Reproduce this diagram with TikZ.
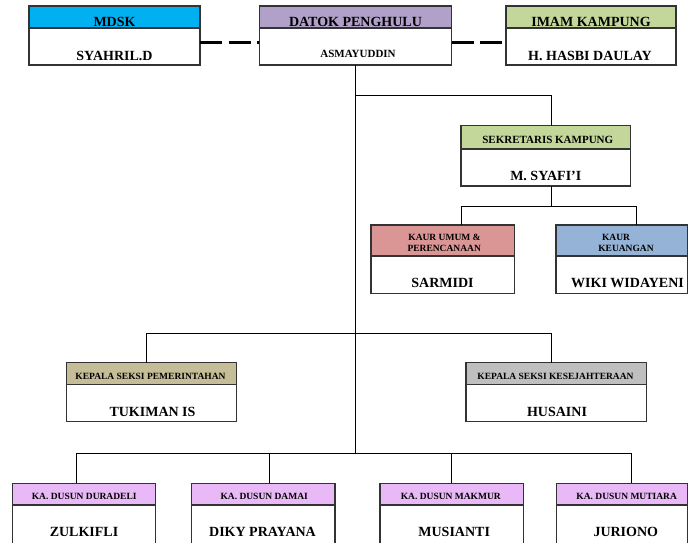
\documentclass[tikz,border=0pt]{standalone}
\usepackage{fontspec}
\setmainfont{Liberation Serif}
\definecolor{cMdsk}{HTML}{00B0F0}
\definecolor{cDatok}{HTML}{B1A0C7}
\definecolor{cGreen}{HTML}{C4D79B}
\definecolor{cRed}{HTML}{DA9694}
\definecolor{cBlue}{HTML}{95B3D7}
\definecolor{cTan}{HTML}{C4BD97}
\definecolor{cGray}{HTML}{BFBFBF}
\definecolor{cDusun}{HTML}{E9B8F7}
\definecolor{cBorder}{HTML}{333333}
\newcommand\obox[7]{% name, x1, y1, x2, y2, yheader, colour
  \fill[#7] (#2,#3) rectangle (#4,#6);
  \draw[boxline] (#2,#6) -- (#4,#6);
  \node[orgbox, minimum width={(#4-#2)*1pt}, minimum height={(#5-#3)*1pt}] (#1) at ({(#2+#4)/2},{(#3+#5)/2}) {};
}
\begin{document}
\begin{tikzpicture}[x=1pt,y=-1pt,
  boxline/.style={draw=cBorder, line width=1.1pt},
  orgbox/.style={rectangle, draw=cBorder, line width=1.1pt, inner sep=0pt, outer sep=0pt},
  conn/.style={draw=black, line width=0.8pt},
  dashline/.style={draw=black, line width=3pt, dash pattern=on 22pt off 6.5pt},
  big/.style={anchor=base, inner sep=0pt, font=\fontsize{14}{16}\selectfont\bfseries},
  mid/.style={anchor=base, inner sep=0pt, font=\fontsize{11}{13}\selectfont\bfseries},
  small/.style={anchor=base, inner sep=0pt, font=\fontsize{9.5}{11}\selectfont\bfseries}]
\useasboundingbox (0,0) rectangle (688,542);
\clip (0,0) rectangle (688,542);
\fill[white] (0,0) rectangle (688,542);

% boxes
\obox{mdsk}{29}{6}{200}{65}{28}{cMdsk}
\obox{datok}{259.3}{6}{451.7}{65}{28}{cDatok}
\obox{imam}{506}{6}{676}{65}{28}{cGreen}
\obox{sek}{461}{125.7}{630.7}{186}{149}{cGreen}
\obox{kum}{371}{225}{514.3}{293.3}{256}{cRed}
\obox{keu}{556}{225}{687.4}{293.3}{256}{cBlue}
\obox{tuk}{66.7}{362.7}{236.7}{421.7}{384.3}{cTan}
\obox{hus}{466}{362.7}{646.7}{421.7}{384.3}{cGray}
\obox{zul}{12.3}{483.3}{155.7}{560}{505}{cDusun}
\obox{dik}{191.7}{483.3}{335}{560}{505}{cDusun}
\obox{mus}{380}{483.3}{523.3}{560}{505}{cDusun}
\obox{jur}{556.7}{483.3}{687.4}{560}{505}{cDusun}

% texts
\node[big] (tmdsk) at (114.5,26) {MDSK};
\node[big] (nmdsk) at (114.5,60) {SYAHRIL.D};
\node[big] (tdatok) at (355.5,26) {DATOK PENGHULU};
\node[mid] (ndatok) at (358,57.3) {ASMAYUDDIN};
\node[big] (timam) at (591,26) {IMAM KAMPUNG};
\node[big] (nimam) at (590,60) {H. HASBI DAULAY};
\node[mid] (tsek) at (547.8,143.3) {SEKRETARIS KAMPUNG};
\node[big] (nsek) at (545.8,180.7) {M. SYAFI’I};
\node[small] (tkum1) at (444.5,240.7) {KAUR UMUM \&};
\node[small] (tkum2) at (444.2,251.7) {PERENCANAAN};
\node[big] (nkum) at (442.5,287.7) {SARMIDI};
\node[small] (tkeu1) at (616,240.7) {KAUR};
\node[small] (tkeu2) at (626,251.7) {KEUANGAN};
\node[big] (nkeu) at (627.5,287.7) {WIKI WIDAYENI};
\node[small] (ttuk) at (150.5,379.3) {KEPALA SEKSI PEMERINTAHAN};
\node[big] (ntuk) at (152.5,416) {TUKIMAN IS};
\node[small] (thus) at (555.5,379.3) {KEPALA SEKSI KESEJAHTERAAN};
\node[big] (nhus) at (557,416) {HUSAINI};
\node[small] (tzul) at (84.2,499.3) {KA. DUSUN DURADELI};
\node[big] (nzul) at (84,536.7) {ZULKIFLI};
\node[small] (tdik) at (264.2,499.3) {KA. DUSUN DAMAI};
\node[big] (ndik) at (262.5,536.7) {DIKY PRAYANA};
\node[small] (tmus) at (450.8,499.3) {KA. DUSUN MAKMUR};
\node[big] (nmus) at (454.2,536.7) {MUSIANTI};
\node[small] (tjur) at (626.7,499.3) {KA. DUSUN MUTIARA};
\node[big] (njur) at (625.8,536.7) {JURIONO};

% junction rows
\coordinate (r1) at (0,95.7);
\coordinate (r2) at (0,206);
\coordinate (r3) at (0,333.3);
\coordinate (r4) at (0,453.3);

% dashed links
\draw[dashline] ([yshift=-6.5pt]mdsk.east) -- ([yshift=-6.5pt]datok.west);
\draw[dashline] ([yshift=-6.5pt]datok.east) -- ([yshift=-6.5pt]imam.west);

% tree connectors
\draw[conn] (datok.south) -- (datok.south |- r4);
\draw[conn] (datok.south |- r1) -| ([xshift=5.45pt]sek.north);
\draw[conn] ([xshift=5.45pt]sek.south) -- ([xshift=5.45pt]sek.south |- r2);
\draw[conn] ([xshift=18.3pt]kum.north) |- ([xshift=15pt]keu.north |- r2) -- ([xshift=15pt]keu.north);
\draw[conn] ([xshift=-5pt]tuk.north) |- ([xshift=-4.65pt]hus.north |- r3) -- ([xshift=-4.65pt]hus.north);
\draw[conn] ([xshift=-7.3pt]zul.north) |- ([xshift=8.9pt]jur.north |- r4) -- ([xshift=8.9pt]jur.north);
\draw[conn] ([xshift=5.95pt]dik.north) -- ([xshift=5.95pt]dik.north |- r4);
\draw[conn] (mus.north) -- (mus.north |- r4);
\end{tikzpicture}
\end{document}
